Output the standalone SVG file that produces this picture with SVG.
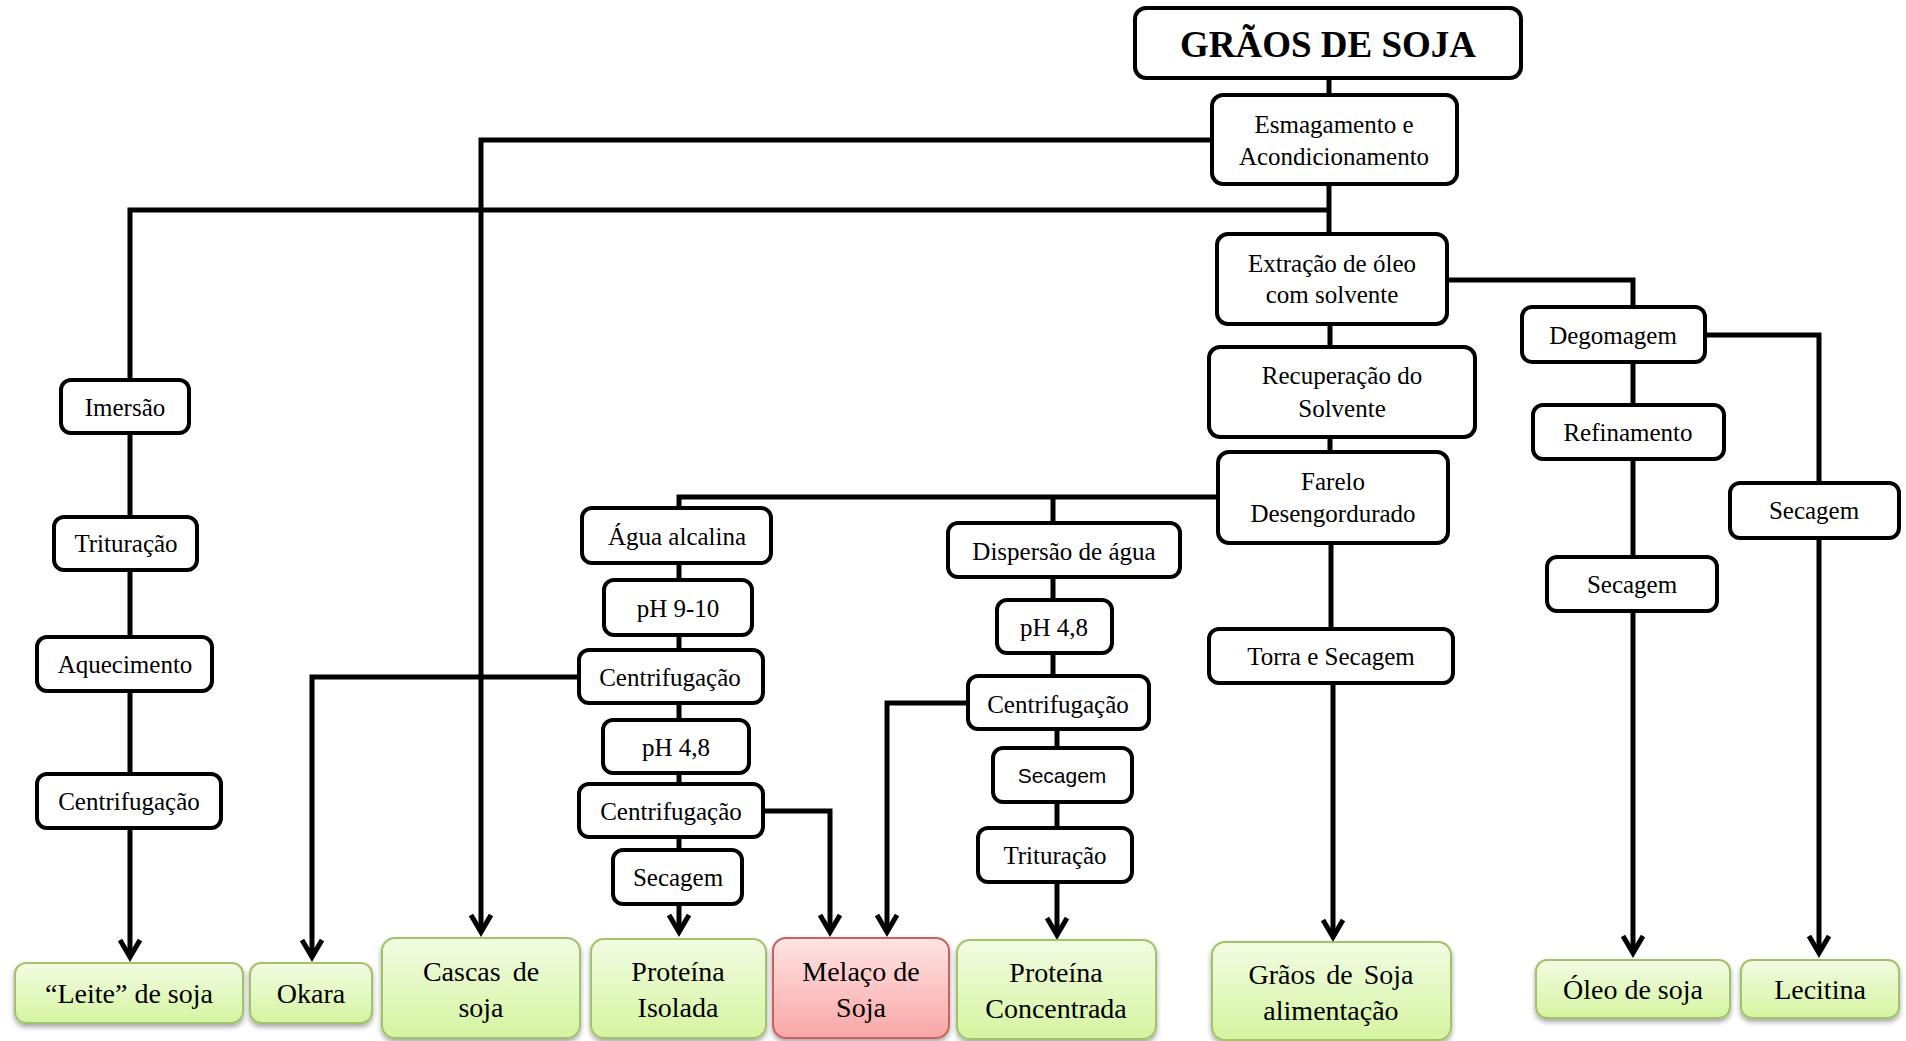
<svg xmlns="http://www.w3.org/2000/svg" width="1906" height="1041" viewBox="0 0 1906 1041">
<style>
.n rect{fill:#fff;stroke:#000;stroke-width:4}
.t{font-family:"Liberation Serif","Times New Roman",serif;font-size:25px;fill:#000;text-anchor:middle}
.s{font-family:"Liberation Sans",Arial,sans-serif;font-size:21px;fill:#000;text-anchor:middle}
.p rect{fill:url(#gg);stroke:#a2c36a;stroke-width:2;filter:url(#sh)}
.r rect{fill:url(#gr);stroke:#c9625e;stroke-width:2;filter:url(#sh)}
.pt{font-family:"Liberation Serif","Times New Roman",serif;font-size:28px;fill:#000;text-anchor:middle}
.c path{fill:none;stroke:#000;stroke-width:5}
.c path.a{marker-end:url(#arr)}
</style>
<defs>
<linearGradient id="gg" x1="0" y1="0" x2="0" y2="1"><stop offset="0" stop-color="#f2fce3"/><stop offset="1" stop-color="#d5f4a0"/></linearGradient>
<linearGradient id="gr" x1="0" y1="0" x2="0" y2="1"><stop offset="0" stop-color="#ffe4e4"/><stop offset="1" stop-color="#f8a6a6"/></linearGradient>
<filter id="sh" x="-10%" y="-10%" width="120%" height="130%"><feDropShadow dx="0" dy="3" stdDeviation="2.5" flood-color="#000" flood-opacity="0.35"/></filter>
<marker id="arr" markerUnits="userSpaceOnUse" viewBox="-24 -14 30 28" refX="0" refY="0" markerWidth="30" markerHeight="28" orient="auto" overflow="visible">
<path d="M-17,-10 L0,0 L-17,10" fill="none" stroke="#000" stroke-width="5"/>
</marker>
</defs>
<rect width="1906" height="1041" fill="#fff"/>
<g id="connectors" class="c">
<path d="M1329,78 V95"/>
<path d="M1329,184 V234"/>
<path class="a" d="M1212,140 H481 V932"/>
<path d="M1329,210 H130 V380"/>
<path d="M130,433 V517"/>
<path d="M130,570 V637"/>
<path d="M130,691 V774"/>
<path class="a" d="M130,828 V957"/>
<path d="M1330,324 V347"/>
<path d="M1330,437 V452"/>
<path d="M1218,497 H679 V508"/>
<path d="M1053,497 V523"/>
<path d="M679,563 V580"/>
<path d="M679,635 V650"/>
<path d="M679,703 V720"/>
<path d="M679,773 V784"/>
<path d="M679,837 V850"/>
<path class="a" d="M679,904 V932"/>
<path class="a" d="M579,677 H312 V957"/>
<path class="a" d="M763,811 H830 V932"/>
<path class="a" d="M968,703 H887 V932"/>
<path d="M1053,577 V600"/>
<path d="M1053,653 V676"/>
<path d="M1057,729 V748"/>
<path d="M1057,802 V828"/>
<path class="a" d="M1057,882 V935"/>
<path d="M1331,543 V629"/>
<path class="a" d="M1333,683 V937"/>
<path d="M1447,280 H1633 V307"/>
<path d="M1633,362 V405"/>
<path d="M1633,459 V557"/>
<path class="a" d="M1633,611 V953"/>
<path d="M1705,335 H1819 V483"/>
<path class="a" d="M1819,538 V953"/>
</g>
<g id="graos" class="n"><rect x="1135" y="8" width="386" height="70" rx="11"/><text x="1328" y="57" class="t" style="font-size:37px;font-weight:bold">GRÃOS DE SOJA</text></g>
<g id="esmagamento" class="n"><rect x="1212" y="95" width="245" height="89" rx="11"/><text x="1334" y="133" class="t">Esmagamento e</text><text x="1334" y="165" class="t">Acondicionamento</text></g>
<g id="extracao" class="n"><rect x="1217" y="234" width="230" height="90" rx="11"/><text x="1332" y="272" class="t">Extração de óleo</text><text x="1332" y="303" class="t">com solvente</text></g>
<g id="recuperacao" class="n"><rect x="1209" y="347" width="266" height="90" rx="11"/><text x="1342" y="384" class="t">Recuperação do</text><text x="1342" y="417" class="t">Solvente</text></g>
<g id="farelo" class="n"><rect x="1218" y="452" width="230" height="91" rx="11"/><text x="1333" y="490" class="t">Farelo</text><text x="1333" y="522" class="t">Desengordurado</text></g>
<g id="torra" class="n"><rect x="1209" y="629" width="244" height="54" rx="10"/><text x="1331" y="665" class="t">Torra e Secagem</text></g>
<g id="degomagem" class="n"><rect x="1522" y="307" width="183" height="55" rx="10"/><text x="1613" y="344" class="t">Degomagem</text></g>
<g id="refinamento" class="n"><rect x="1533" y="405" width="191" height="54" rx="10"/><text x="1628" y="441" class="t">Refinamento</text></g>
<g id="secagem-oleo" class="n"><rect x="1547" y="557" width="170" height="54" rx="10"/><text x="1632" y="593" class="t">Secagem</text></g>
<g id="secagem-lecitina" class="n"><rect x="1730" y="483" width="169" height="55" rx="10"/><text x="1814" y="519" class="t">Secagem</text></g>
<g id="imersao" class="n"><rect x="61" y="380" width="128" height="53" rx="10"/><text x="125" y="416" class="t">Imersão</text></g>
<g id="trituracao-leite" class="n"><rect x="54" y="517" width="143" height="53" rx="10"/><text x="126" y="552" class="t">Trituração</text></g>
<g id="aquecimento" class="n"><rect x="37" y="637" width="175" height="54" rx="10"/><text x="125" y="673" class="t">Aquecimento</text></g>
<g id="centrifugacao-leite" class="n"><rect x="37" y="774" width="184" height="54" rx="10"/><text x="129" y="810" class="t">Centrifugação</text></g>
<g id="agua-alcalina" class="n"><rect x="582" y="508" width="189" height="55" rx="10"/><text x="677" y="545" class="t">Água alcalina</text></g>
<g id="ph910" class="n"><rect x="604" y="580" width="148" height="55" rx="10"/><text x="678" y="617" class="t">pH 9-10</text></g>
<g id="centrifugacao-1" class="n"><rect x="579" y="650" width="184" height="53" rx="10"/><text x="670" y="686" class="t">Centrifugação</text></g>
<g id="ph48-a" class="n"><rect x="603" y="720" width="146" height="53" rx="10"/><text x="676" y="756" class="t">pH 4,8</text></g>
<g id="centrifugacao-2" class="n"><rect x="579" y="784" width="184" height="53" rx="10"/><text x="671" y="820" class="t">Centrifugação</text></g>
<g id="secagem-isolada" class="n"><rect x="613" y="850" width="129" height="54" rx="10"/><text x="678" y="886" class="t">Secagem</text></g>
<g id="dispersao" class="n"><rect x="948" y="523" width="232" height="54" rx="10"/><text x="1064" y="560" class="t">Dispersão de água</text></g>
<g id="ph48-b" class="n"><rect x="997" y="600" width="115" height="53" rx="10"/><text x="1054" y="636" class="t">pH 4,8</text></g>
<g id="centrifugacao-3" class="n"><rect x="968" y="676" width="181" height="53" rx="10"/><text x="1058" y="713" class="t">Centrifugação</text></g>
<g id="secagem-concentrada" class="n"><rect x="993" y="748" width="139" height="54" rx="10"/><text x="1062" y="783" class="s">Secagem</text></g>
<g id="trituracao-concentrada" class="n"><rect x="978" y="828" width="154" height="54" rx="10"/><text x="1055" y="864" class="t">Trituração</text></g>
<g id="leite" class="p"><rect x="15" y="963" width="228" height="60" rx="11"/><text x="129" y="1003" class="pt">“Leite” de soja</text></g>
<g id="okara" class="p"><rect x="250" y="963" width="122" height="60" rx="11"/><text x="311" y="1003" class="pt">Okara</text></g>
<g id="cascas" class="p"><rect x="382" y="938" width="198" height="100" rx="13"/><text x="481" y="981" class="pt" style="word-spacing:5px">Cascas de</text><text x="481" y="1017" class="pt">soja</text></g>
<g id="proteina-isolada" class="p"><rect x="591" y="939" width="175" height="99" rx="13"/><text x="678" y="981" class="pt">Proteína</text><text x="678" y="1017" class="pt">Isolada</text></g>
<g id="melaco" class="r"><rect x="773" y="938" width="176" height="100" rx="13"/><text x="861" y="981" class="pt">Melaço de</text><text x="861" y="1017" class="pt">Soja</text></g>
<g id="proteina-concentrada" class="p"><rect x="957" y="940" width="199" height="99" rx="13"/><text x="1056" y="982" class="pt">Proteína</text><text x="1056" y="1018" class="pt">Concentrada</text></g>
<g id="graos-alimentacao" class="p"><rect x="1212" y="942" width="239" height="98" rx="13"/><text x="1331" y="984" class="pt" style="word-spacing:4px">Grãos de Soja</text><text x="1331" y="1020" class="pt">alimentação</text></g>
<g id="oleo" class="p"><rect x="1536" y="960" width="194" height="58" rx="11"/><text x="1633" y="999" class="pt">Óleo de soja</text></g>
<g id="lecitina" class="p"><rect x="1741" y="960" width="158" height="58" rx="11"/><text x="1820" y="999" class="pt">Lecitina</text></g>
</svg>
